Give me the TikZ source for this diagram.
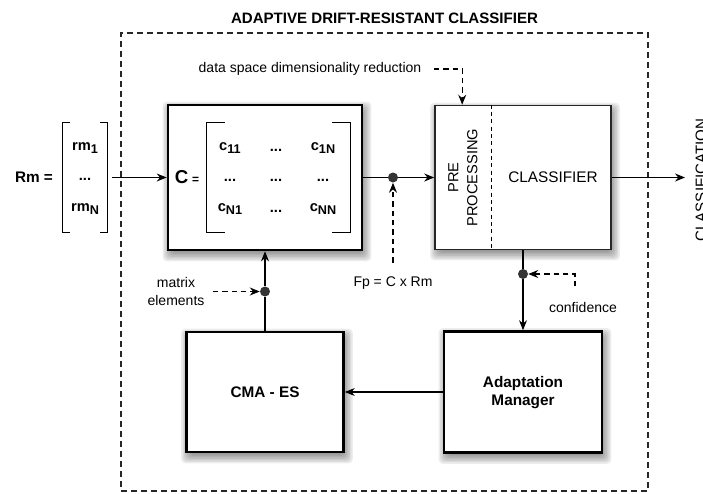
\documentclass[tikz,border=0pt]{standalone}
\usepackage{fontspec}
\setmainfont{Liberation Sans}
\usetikzlibrary{arrows.meta,calc}
\pgfdeclarelayer{bg}
\pgfsetlayers{bg,main}
\newcommand\lsub[1]{\raisebox{-0.45ex}{\fontsize{9.5}{10}\selectfont #1}}
\newcommand\boxshadow[1]{%
  \begin{pgfonlayer}{bg}
  \foreach \e in {-3,-1.5,0,1.5,3,4.5,6}{
    \fill[black,opacity=0.07,rounded corners=3pt]
      ([shift={(2-\e,4+\e)}]#1.south west) rectangle ([shift={(2+\e,4-\e)}]#1.north east);
  }
  \end{pgfonlayer}}
\begin{document}
\begin{tikzpicture}[x=0.75pt,y=-0.75pt,
  every node/.style={font=\fontsize{10.5}{12.5}\selectfont, text=black},
  thickbox/.style={draw=black, line width=2pt, fill=white, inner sep=0pt},
  thinbox/.style={draw=black!85, line width=1.2pt, fill=white, inner sep=0pt},
  arr/.style={-{Stealth[length=7.5pt,width=6pt,inset=2.5pt]}, line width=0.8pt},
  darr/.style={arr, dash pattern=on 4pt off 3pt},
  plain/.style={line width=0.8pt},
  dotnode/.style={circle, fill=black!80, minimum size=7.5pt, inner sep=0pt},
  lbl/.style={font=\fontsize{10.5}{13.5}\selectfont},
  blbl/.style={font=\fontsize{11.5}{14}\selectfont\bfseries},
  ent/.style={font=\fontsize{11}{13}\selectfont\bfseries},
  brk/.style={line width=0.9pt},
  outerbox/.style={draw=black!85, line width=0.8pt, dash pattern=on 4.5pt off 3pt, inner sep=0pt}]
\useasboundingbox (0,0) rectangle (703,493);

% title and outer frame
\node[font=\fontsize{11.3}{13}\selectfont\bfseries] (title) at (384.5,18) {ADAPTIVE DRIFT-RESISTANT CLASSIFIER};
\node[outerbox, minimum width=395.25pt, minimum height=343.5pt] (outer) at (384.5,262) {};

% input vector
\node[blbl] (rmlbl) at (34,177.5) {Rm =};
\node[minimum width=33pt, minimum height=81.75pt, inner sep=0pt] (rmvec) at (85,177.5) {};
\draw[brk] ([xshift=5.25pt]rmvec.north west) -| (rmvec.south west) -- ++(5.25pt,0);
\draw[brk] ([xshift=-5.25pt]rmvec.north east) -| (rmvec.south east) -- ++(-5.25pt,0);
\node[ent] (rm1) at (85,148) {rm\lsub{1}};
\node[ent] (rmd) at (85,179) {...};
\node[ent] (rmn) at (85,209) {rm\lsub{N}};

% C matrix box
\node[thickbox, minimum width=145.5pt, minimum height=108.75pt] (cbox) at (265,177.5) {};
\node (ceq) at (187,177.5) {{\fontsize{14}{14}\selectfont\bfseries C} {\fontsize{9}{9}\selectfont\bfseries =}};
\node[minimum width=107.25pt, minimum height=81.75pt, inner sep=0pt] (cmat) at (278.5,177.5) {};
\draw[brk] ([xshift=13.5pt]cmat.north west) -| (cmat.south west) -- ++(13.5pt,0);
\draw[brk] ([xshift=-13.5pt]cmat.north east) -| (cmat.south east) -- ++(-13.5pt,0);
\node[ent] (c11) at (230,148) {c\lsub{11}};
\node[ent] (c12) at (276,150) {...};
\node[ent] (c1n) at (323,148) {c\lsub{1N}};
\node[ent] (c21) at (230,180) {...};
\node[ent] (c22) at (276,180) {...};
\node[ent] (c2n) at (323,180) {...};
\node[ent] (cn1) at (230,209) {c\lsub{N1}};
\node[ent] (cn2) at (276,211) {...};
\node[ent] (cnn) at (323,209) {c\lsub{NN}};

% classifier box
\node[thinbox, minimum width=132pt, minimum height=108pt] (clf) at (523,177.5) {};
\draw[line width=0.8pt, dash pattern=on 3pt off 2.5pt] ([xshift=42.75pt]clf.north west) -- ([xshift=42.75pt]clf.south west);
\node[rotate=90, align=center, font=\fontsize{11}{14.25}\selectfont] (pre) at (463,177.5) {PRE\\PROCESSING};
\node[font=\fontsize{11.5}{13}\selectfont] (clflbl) at (553,177.5) {CLASSIFIER};

% lower boxes
\node[thickbox, minimum width=117.75pt, minimum height=90pt] (cma) at (265,392) {};
\node[blbl] (cmalbl) at (265,392) {CMA - ES};
\node[thickbox, minimum width=118.5pt, minimum height=90.75pt] (adm) at (523,392) {};
\node[blbl, align=center] (admlbl) at (523,392.5) {Adaptation\\Manager};

\boxshadow{cbox}
\boxshadow{clf}
\boxshadow{cma}
\boxshadow{adm}

% junction dots
\node[dotnode] (dot1) at (393,177.5) {};
\node[dotnode] (dot2) at (523,274) {};
\node[dotnode] (dot3) at (265,291.5) {};

% labels
\node[lbl] (dsdr) at (310,69) {data space dimensionality reduction};
\node[lbl] (fp) at (393,283) {Fp = C x Rm};
\node[lbl] (conf) at (583,307) {confidence};
\node[lbl, align=center] (mtx) at (176,291.5) {matrix\\elements};
\node[rotate=90, font=\fontsize{11.3}{13}\selectfont] (clsout) at (701,180) {CLASSIFICATION};

\coordinate (ppin) at ([xshift=21pt]clf.north west);
\coordinate (outpt) at (685,177.5);
\coordinate (confsrc) at (575,286);

% connectors
\draw[arr, shorten <=3.75pt] (rmvec) -- (cbox);
\draw[plain] (cbox) -- (dot1);
\draw[arr] (dot1) -- (clf);
\draw[arr] (clf) -- (outpt);
\draw[darr, shorten <=7pt] (fp.north) -- (dot1);
\draw[darr, shorten <=6pt] (dsdr.east) -| (ppin);
\draw[plain] (clf) -- (dot2);
\draw[arr] (dot2) -- (adm);
\draw[darr] (confsrc) |- (dot2);
\draw[arr] (adm) -- (cma);
\draw[plain] (cma) -- (dot3);
\draw[arr] (dot3) -- (cbox);
\draw[darr, shorten <=3pt] (mtx.east) -- (dot3);
\end{tikzpicture}
\end{document}
